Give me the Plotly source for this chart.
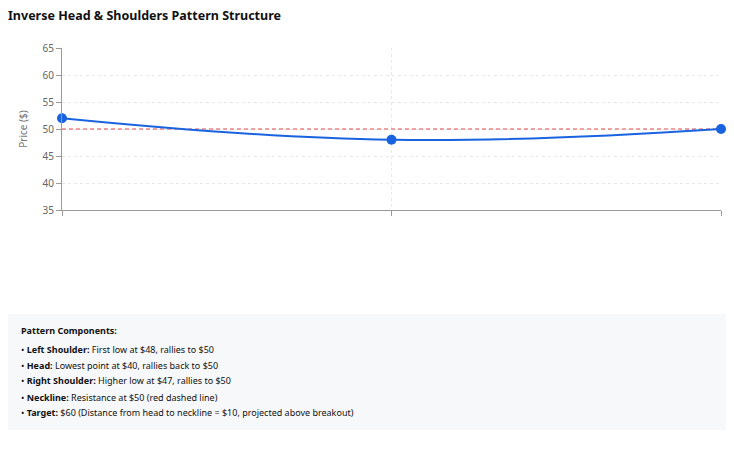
import plotly.graph_objects as go

# Pattern data
points = ["Left Shoulder", "Head", "Right Shoulder"]
prices = [52, 48, 50]
neckline = 50
y_ticks = [35, 40, 45, 50, 55, 60, 65]

components = [
    ("Left Shoulder:", "First low at $48, rallies to $50"),
    ("Head:", "Lowest point at $40, rallies back to $50"),
    ("Right Shoulder:", "Higher low at $47, rallies to $50"),
    ("Neckline:", "Resistance at $50 (red dashed line)"),
    ("Target:", "$60 (Distance from head to neckline = $10, projected above breakout)"),
]

FONT = "Noto Sans, Open Sans, sans-serif"

# page has an 8px body margin, so the figure is laid out in page coords minus 8
W, H = 718, 437
ML, MR, MT, MB = 54, 5, 40, 235
PLOT_H = H - MT - MB
PLOT_W = W - ML - MR


def px_x(x):
    return (x - 8 - ML) / PLOT_W


def px_y(y):
    return (H - MB - (y - 8)) / PLOT_H


fig = go.Figure()

# Neckline
fig.add_trace(go.Scatter(
    x=[0, len(points) - 1],
    y=[neckline, neckline],
    mode="lines",
    line=dict(color="#e04848", width=1, dash="4px,3px"),
    hoverinfo="skip",
    showlegend=False,
))

# Price path
fig.add_trace(go.Scatter(
    x=list(range(len(points))),
    y=prices,
    mode="lines+markers",
    line=dict(color="#1a63e0", width=2, shape="spline", smoothing=1.2),
    marker=dict(color="#1a63e0", size=10),
    text=points,
    cliponaxis=False,
    showlegend=False,
))

fig.update_layout(
    width=W,
    height=H,
    margin=dict(l=ML, r=MR, t=MT, b=MB),
    paper_bgcolor="white",
    plot_bgcolor="white",
    font=dict(family=FONT, size=10, color="#666"),
    title=dict(
        text="<b>Inverse Head & Shoulders Pattern Structure</b>",
        x=0.0, xanchor="left", y=1 - 8 / H, yanchor="middle",
        font=dict(size=12.5, color="#111", family=FONT),
    ),
)

fig.update_xaxes(
    range=[0, len(points) - 1],
    tickvals=list(range(len(points))),
    ticktext=["", "", ""],
    ticks="outside", ticklen=5, tickcolor="#999",
    showline=True, linecolor="#999", linewidth=1,
    showgrid=True, gridcolor="#e8e8e8", griddash="dot",
    zeroline=False,
)
fig.update_yaxes(
    range=[35, 65],
    tickvals=y_ticks,
    ticks="outside", ticklen=5, tickcolor="#999",
    showline=True, linecolor="#999", linewidth=1,
    showgrid=True, gridcolor="#e8e8e8", griddash="dot",
    zeroline=False,
    title=dict(text="Price ($)", font=dict(size=10, color="#777"), standoff=13),
    tickfont=dict(size=10, color="#666"),
)

# Info box
fig.add_shape(
    type="rect", xref="paper", yref="paper",
    x0=px_x(8), x1=px_x(740), y0=px_y(430), y1=px_y(314),
    fillcolor="#f7f8fa", line=dict(width=0), layer="below",
)

text_x = px_x(19)
fig.add_annotation(
    xref="paper", yref="paper", x=text_x, y=px_y(330),
    text="<b>Pattern Components:</b>", showarrow=False,
    xanchor="left", yanchor="middle",
    font=dict(size=9, color="#111", family=FONT),
)
for i, (label, desc) in enumerate(components):
    fig.add_annotation(
        xref="paper", yref="paper", x=text_x, y=px_y(349 + i * 16),
        text=f"• <b>{label}</b> {desc}", showarrow=False,
        xanchor="left", yanchor="middle",
        font=dict(size=9, color="#111", family=FONT),
    )

fig.write_html("out.html")
